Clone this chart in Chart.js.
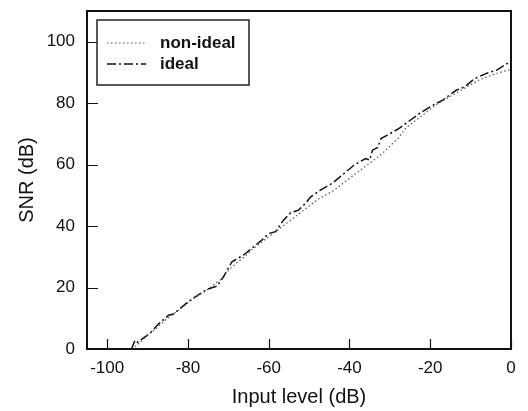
<!DOCTYPE html>
<html>
<head>
<meta charset="utf-8">
<script src="https://cdn.jsdelivr.net/npm/chart.js@4/dist/chart.umd.min.js"></script>
<style>
  html, body { margin: 0; padding: 0; background: #fff; }
  #snrChart { display: block; }
</style>
</head>
<body>
<canvas id="snrChart" width="528" height="411"></canvas>
<script>
// input level (dB) / SNR (dB) samples for both converters
const idealX = [-94, -93.1, -92.5, -89.4, -87.3, -84.8, -83.6, -79.9, -78.2, -75.3, -72.8, -71.2, -69.1, -66.2, -63.7, -61.2, -60, -58.3, -56.3, -54.6, -52.6, -50.9, -49.6, -47.2, -44.3, -41.8, -38.9, -36, -35, -34.3, -33, -32.2, -30.6, -27.7, -25.2, -22.7, -19.4, -16.9, -13.6, -11.5, -9, -6.1, -3.6, -0.7, 0];
const idealY = [0, 2.9, 2.2, 5.1, 8.1, 11, 11.4, 15.4, 17, 19.4, 20.5, 23.5, 28.4, 30.6, 33.3, 36, 37.6, 38.2, 42, 44.3, 45.2, 47.4, 49.5, 51.7, 53.9, 56.6, 59.8, 62, 61.5, 64.7, 65.6, 68.5, 69.6, 71.8, 74.2, 76.6, 79.3, 81, 84.2, 85.3, 88, 89.7, 90.7, 93.1, 94];

const nonIdealX = [-94, -92, -90, -88, -86, -84, -82, -80, -78, -76, -74, -72, -70, -68, -66, -64, -62, -60, -58, -56, -54, -52, -50, -48, -46, -44, -42, -40, -38, -36, -34, -32, -30, -28, -26, -24, -22, -20, -18, -16, -14, -12, -10, -8, -6, -4, -2, 0];
const nonIdealY = [0, 2, 4.5, 6.5, 9, 11, 13, 15, 17, 18.5, 20.5, 22.5, 25.5, 28, 30, 32.5, 34.5, 36.5, 38.5, 40.5, 42.5, 44.5, 46.5, 48.5, 50, 51.5, 53.5, 55.5, 57.5, 59.5, 61.5, 63.5, 66, 68.5, 72, 74, 76, 78, 80, 81.5, 83, 84.5, 86, 87.5, 88.5, 89.5, 90.3, 91];

const xTicks = [-100, -80, -60, -40, -20, 0];
const yTicks = [0, 20, 40, 60, 80, 100];

const toPoints = (xs, ys) => xs.map((x, i) => ({ x: x, y: ys[i] }));

const FONT = "'Liberation Sans', Arial, sans-serif";

// frame, inward tick marks and the boxed legend in the upper left
const framePlugin = {
  id: 'frame',
  afterDraw(chart) {
    const ctx = chart.ctx;
    const a = chart.chartArea;
    const xs = chart.scales.x, ys = chart.scales.y;
    ctx.save();
    ctx.strokeStyle = '#111';
    ctx.lineWidth = 2;
    ctx.strokeRect(a.left, a.top, a.right - a.left, a.bottom - a.top);

    ctx.lineWidth = 1.2;
    ctx.beginPath();
    xTicks.forEach(v => {
      const px = Math.round(xs.getPixelForValue(v)) + 0.5;
      ctx.moveTo(px, a.bottom);
      ctx.lineTo(px, a.bottom - 10);
    });
    yTicks.forEach(v => {
      const py = Math.round(ys.getPixelForValue(v)) + 0.5;
      ctx.moveTo(a.left, py);
      ctx.lineTo(a.left + 11, py);
    });
    ctx.stroke();

    // legend
    const lx = a.left + 10, ly = a.top + 9, lw = 152, lh = 65;
    ctx.fillStyle = '#fff';
    ctx.fillRect(lx, ly, lw, lh);
    ctx.lineWidth = 1.5;
    ctx.strokeStyle = '#222';
    ctx.strokeRect(lx, ly, lw, lh);

    ctx.font = 'bold 17px ' + FONT;
    ctx.textBaseline = 'middle';
    ctx.fillStyle = '#111';
    chart.data.datasets.forEach((ds, i) => {
      const y = ly + 23 + i * 21;
      ctx.save();
      ctx.strokeStyle = ds.borderColor;
      ctx.lineWidth = ds.borderWidth;
      ctx.setLineDash(ds.borderDash);
      ctx.beginPath();
      ctx.moveTo(lx + 10, y);
      ctx.lineTo(lx + 49, y);
      ctx.stroke();
      ctx.restore();
      ctx.fillText(ds.label, lx + 63, y);
    });
    ctx.restore();
  }
};

new Chart(document.getElementById('snrChart'), {
  type: 'scatter',
  data: {
    datasets: [
      {
        label: 'non-ideal',
        data: toPoints(nonIdealX, nonIdealY),
        showLine: true,
        borderColor: '#555',
        borderWidth: 1.2,
        borderDash: [1.5, 2.5],
        pointRadius: 0,
        tension: 0
      },
      {
        label: 'ideal',
        data: toPoints(idealX, idealY),
        showLine: true,
        borderColor: '#111',
        borderWidth: 1.5,
        borderDash: [9, 3, 2, 3],
        pointRadius: 0,
        tension: 0
      }
    ]
  },
  options: {
    responsive: false,
    animation: false,
    layout: { padding: { top: 0, right: 17, left: 0, bottom: 0 } },
    plugins: {
      legend: { display: false },
      tooltip: { enabled: false }
    },
    scales: {
      x: {
        type: 'linear',
        min: -105,
        max: 0,
        afterBuildTicks: s => { s.ticks = xTicks.map(v => ({ value: v })); },
        afterFit: s => { s.height = 62; },
        grid: { display: false, drawTicks: false },
        border: { display: false },
        ticks: { padding: 9, color: '#111', font: { family: FONT, size: 17 } },
        title: {
          display: true,
          text: 'Input level (dB)',
          color: '#111',
          padding: { top: 0, bottom: 2 },
          font: { family: FONT, size: 20 }
        }
      },
      y: {
        min: 0,
        max: 110,
        afterBuildTicks: s => { s.ticks = yTicks.map(v => ({ value: v })); },
        afterFit: s => { s.width = 87; s.paddingTop = 11; },
        grid: { display: false, drawTicks: false },
        border: { display: false },
        ticks: { padding: 12, color: '#111', font: { family: FONT, size: 17 } },
        title: {
          display: true,
          text: 'SNR (dB)',
          color: '#111',
          padding: { top: 15, bottom: 0 },
          font: { family: FONT, size: 20 }
        }
      }
    }
  },
  plugins: [framePlugin]
});
</script>
</body>
</html>
